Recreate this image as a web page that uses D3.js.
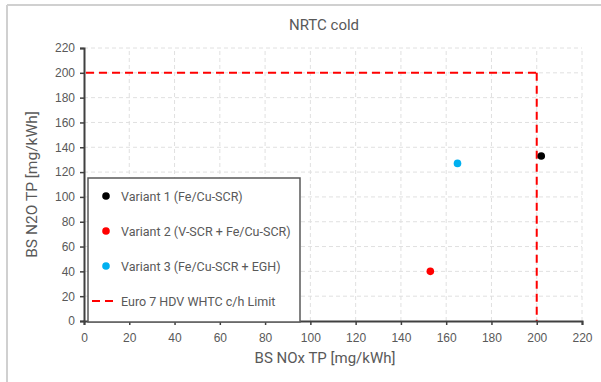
<!DOCTYPE html>
<html>
<head>
<meta charset="utf-8">
<script src="https://cdn.jsdelivr.net/npm/d3@7"></script>
<style>
  body { margin: 0; background: #fff; }
  svg { display: block; font-family: Roboto, "Liberation Sans", sans-serif; }
</style>
</head>
<body>
<svg id="chart" width="601" height="382"></svg>
<script>
// data
const seriesNames = ['Variant 1 (Fe/Cu-SCR)', 'Variant 2 (V-SCR + Fe/Cu-SCR)', 'Variant 3 (Fe/Cu-SCR + EGH)'];
const seriesColors = ['#000000', '#ff0000', '#00b0f0'];
const noxValues = [202, 153, 165];
const n2oValues = [133, 40, 127];
const limitName = 'Euro 7 HDV WHTC c/h Limit';
const limitNox = 200;
const limitN2o = 200;
const xTicks = [0, 20, 40, 60, 80, 100, 120, 140, 160, 180, 200, 220];
const yTicks = [0, 20, 40, 60, 80, 100, 120, 140, 160, 180, 200, 220];

const svg = d3.select('#chart');
const width = 601, height = 382;
const margin = { top: 48, right: 19, bottom: 61, left: 84 };
const textColor = '#595959';

// chart frame
svg.append('line').attr('x1', 7).attr('x2', width).attr('y1', 5).attr('y2', 5)
  .attr('stroke', '#d0d0d0').attr('stroke-width', 2);
svg.append('line').attr('x1', 7).attr('x2', 7).attr('y1', 5).attr('y2', height)
  .attr('stroke', '#d0d0d0').attr('stroke-width', 2);

const x = d3.scaleLinear().domain([0, 220]).range([margin.left, width - margin.right]);
const y = d3.scaleLinear().domain([0, 220]).range([height - margin.bottom, margin.top]);

// gridlines
svg.append('g')
  .selectAll('line')
  .data(yTicks.slice(1))
  .enter()
  .append('line')
  .attr('x1', x(0)).attr('x2', x(220))
  .attr('y1', d => y(d)).attr('y2', d => y(d))
  .attr('stroke', '#e0e0e0').attr('stroke-width', 1).attr('stroke-dasharray', '4,3');

svg.append('g')
  .selectAll('line')
  .data(xTicks.slice(1))
  .enter()
  .append('line')
  .attr('x1', d => x(d)).attr('x2', d => x(d))
  .attr('y1', y(0)).attr('y2', y(220))
  .attr('stroke', '#e0e0e0').attr('stroke-width', 1).attr('stroke-dasharray', '4,3');

// limit lines
const limit = svg.append('g')
  .attr('stroke', '#ff0000').attr('stroke-width', 2).attr('stroke-dasharray', '8,5').attr('fill', 'none');
limit.append('line')
  .attr('x1', x(0) + 2).attr('x2', x(limitNox))
  .attr('y1', y(limitN2o)).attr('y2', y(limitN2o));
limit.append('line')
  .attr('x1', x(limitNox)).attr('x2', x(limitNox))
  .attr('y1', y(limitN2o)).attr('y2', y(0));

// axes
const xAxis = g => g
  .attr('transform', `translate(0,${y(0)})`)
  .call(d3.axisBottom(x).tickValues(xTicks).tickSizeOuter(0).tickSize(4).tickPadding(8));
const yAxis = g => g
  .attr('transform', `translate(${x(0)},0)`)
  .call(d3.axisLeft(y).tickValues(yTicks).tickSizeOuter(0).tickSize(4).tickPadding(5));

[svg.append('g').call(xAxis), svg.append('g').call(yAxis)].forEach(g => {
  g.select('.domain').attr('stroke', '#404040').attr('stroke-width', 2);
  g.selectAll('.tick line').attr('stroke', '#404040').attr('stroke-width', 1.5);
  g.selectAll('.tick text').attr('fill', textColor).attr('font-size', 12);
});

// points
svg.append('g')
  .selectAll('circle')
  .data(noxValues)
  .enter()
  .append('circle')
  .attr('cx', d => x(d))
  .attr('cy', (d, i) => y(n2oValues[i]))
  .attr('r', 3.8)
  .attr('fill', (d, i) => seriesColors[i]);

// legend
const legend = svg.append('g').attr('transform', 'translate(88,178)');
legend.append('rect')
  .attr('width', 212).attr('height', 144)
  .attr('fill', '#fff').attr('stroke', '#595959').attr('stroke-width', 1.5);
seriesNames.forEach((name, i) => {
  const row = legend.append('g').attr('transform', `translate(0,${18 + i * 35})`);
  row.append('circle').attr('cx', 18).attr('cy', 0).attr('r', 3.8).attr('fill', seriesColors[i]);
  row.append('text').attr('x', 33).attr('y', 4.5).attr('fill', textColor)
    .attr('font-size', 12.5).text(name);
});
const limitRow = legend.append('g').attr('transform', `translate(0,${18 + 3 * 35})`);
limitRow.append('line').attr('x1', 4).attr('x2', 30).attr('y1', 0).attr('y2', 0)
  .attr('stroke', '#ff0000').attr('stroke-width', 2).attr('stroke-dasharray', '8,5');
limitRow.append('text').attr('x', 33).attr('y', 4.5).attr('fill', textColor)
  .attr('font-size', 12.5).text(limitName);

// titles
svg.append('text')
  .attr('x', 324).attr('y', 30)
  .attr('text-anchor', 'middle').attr('fill', textColor).attr('font-size', 15)
  .text('NRTC cold');

svg.append('text')
  .attr('x', 325).attr('y', 363)
  .attr('text-anchor', 'middle').attr('fill', textColor).attr('font-size', 15)
  .text('BS NOx TP [mg/kWh]');

svg.append('text')
  .attr('transform', `translate(37,${(y(0) + y(220)) / 2}) rotate(-90)`)
  .attr('text-anchor', 'middle').attr('fill', textColor).attr('font-size', 15.5)
  .text('BS N2O TP [mg/kWh]');
</script>
</body>
</html>
